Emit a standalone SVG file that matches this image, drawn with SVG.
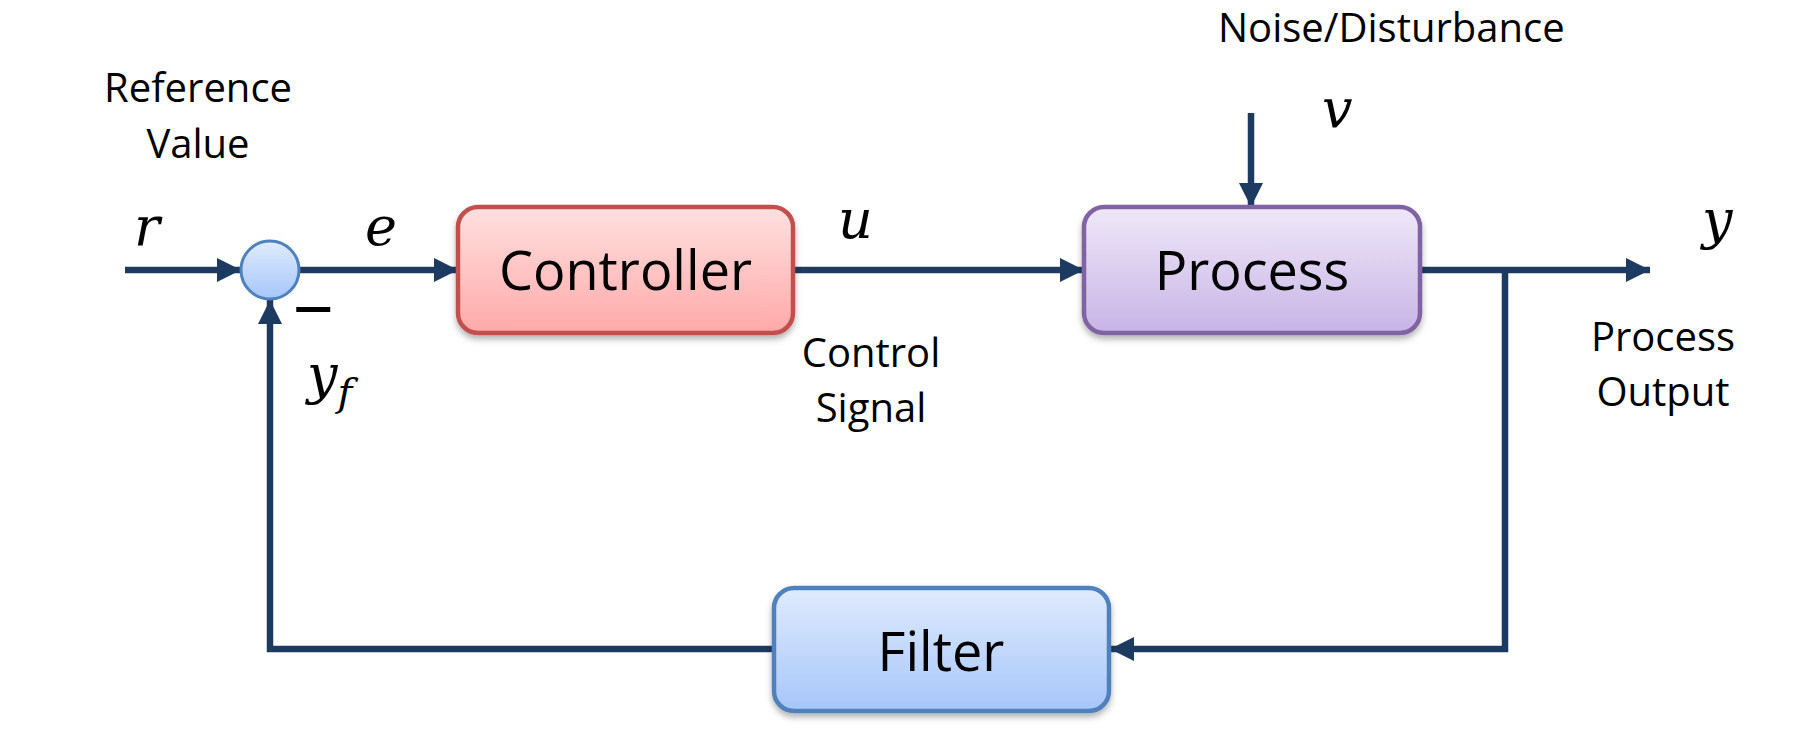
<svg xmlns="http://www.w3.org/2000/svg" width="1807" height="737" viewBox="0 0 1807 737">
<style>
.lbl{font-family:"Open Sans","Liberation Sans",sans-serif;font-size:40px;fill:#000}
.box{font-family:"Open Sans","Liberation Sans",sans-serif;font-size:54px;fill:#000;text-anchor:middle}
.math{font-family:"DejaVu Serif","Liberation Serif",serif;font-style:italic;font-size:54px;fill:#000}
.wire{fill:none;stroke:#1d3a60;stroke-width:6.5;stroke-linejoin:miter}
</style>
<defs>
<marker id="ah" markerUnits="userSpaceOnUse" markerWidth="26" markerHeight="24" refX="24" refY="12" orient="auto">
<path d="M0,0 L24,12 L0,24 z" fill="#1d3a60"/>
</marker>
<linearGradient id="gRed" x1="0" y1="0" x2="0" y2="1">
<stop offset="0" stop-color="#ffe0e0"/><stop offset="1" stop-color="#ffa9a9"/>
</linearGradient>
<linearGradient id="gPur" x1="0" y1="0" x2="0" y2="1">
<stop offset="0" stop-color="#efe8f8"/><stop offset="1" stop-color="#c8b4e6"/>
</linearGradient>
<linearGradient id="gBlue" x1="0" y1="0" x2="0" y2="1">
<stop offset="0" stop-color="#e0ebfc"/><stop offset="1" stop-color="#a6c6fa"/>
</linearGradient>
<filter id="sh" x="-10%" y="-10%" width="120%" height="130%">
<feDropShadow dx="0" dy="4" stdDeviation="3" flood-color="#000" flood-opacity="0.3"/>
</filter>
</defs>
<rect width="1807" height="737" fill="#fff"/>

<g id="connectors">
<path class="wire" d="M125,270 L241,270" marker-end="url(#ah)"/>
<path class="wire" d="M299,270 L458,270" marker-end="url(#ah)"/>
<path class="wire" d="M793,270 L1084,270" marker-end="url(#ah)"/>
<path class="wire" d="M1420,270 L1650,270" marker-end="url(#ah)"/>
<path class="wire" d="M1505,270 L1505,649 L1110,649" marker-end="url(#ah)"/>
<path class="wire" d="M774,649 L270,649 L270,300" marker-end="url(#ah)"/>
<path class="wire" d="M1251,113 L1251,207" marker-end="url(#ah)"/>
</g>

<g id="sum">
<circle cx="270" cy="270" r="29" fill="url(#gBlue)" stroke="#4f81bd" stroke-width="3"/>
</g>

<g id="controller">
<rect x="458" y="207" width="335" height="126" rx="20" fill="url(#gRed)" stroke="#c0504d" stroke-width="4.5" filter="url(#sh)"/>
<text class="box" x="625.5" y="290">Controller</text>
</g>

<g id="process">
<rect x="1084" y="207" width="336" height="126" rx="20" fill="url(#gPur)" stroke="#8064a2" stroke-width="4.5" filter="url(#sh)"/>
<text class="box" x="1252" y="290">Process</text>
</g>

<g id="filter">
<rect x="774" y="588" width="335" height="123" rx="20" fill="url(#gBlue)" stroke="#4f81bd" stroke-width="4.5" filter="url(#sh)"/>
<text class="box" x="941" y="671">Filter</text>
</g>

<g id="labels">
<text class="lbl" x="198" y="102" text-anchor="middle">Reference</text>
<text class="lbl" x="198" y="158" text-anchor="middle">Value</text>
<text class="lbl" x="1218" y="42">Noise/Disturbance</text>
<text class="lbl" x="871" y="367" text-anchor="middle">Control</text>
<text class="lbl" x="871" y="422" text-anchor="middle">Signal</text>
<text class="lbl" x="1663" y="351" text-anchor="middle">Process</text>
<text class="lbl" x="1663" y="406" text-anchor="middle">Output</text>
<text class="math" x="134" y="245">r</text>
<text class="math" x="365" y="245">e</text>
<text class="math" x="838" y="238">u</text>
<text class="math" x="1322" y="127">v</text>
<text class="math" x="1702" y="238">y</text>
<text class="math" x="307" y="393">y<tspan font-size="40" dy="13">f</tspan></text>
<text x="293" y="333" font-family="Liberation Sans,sans-serif" font-size="70" fill="#000">−</text>
</g>
</svg>
